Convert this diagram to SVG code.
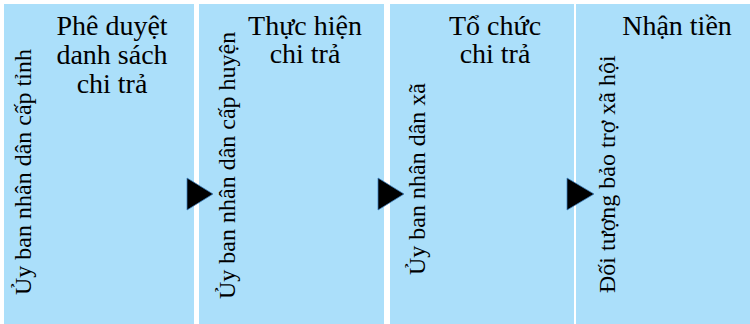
<svg xmlns="http://www.w3.org/2000/svg" width="750" height="324" viewBox="0 0 750 324">
  <style>
    .panel { fill: #ABDFFA; }
    .title { font-size: 28px; fill: #000; text-anchor: middle; }
    .actor { font-size: 24px; fill: #000; }
    .arrow { fill: #000; stroke: #3C7FBF; stroke-width: 0.75; stroke-linejoin: miter; }
  </style>
  <rect width="750" height="324" fill="#ffffff"/>

  <g font-family="Liberation Serif, DejaVu Serif, serif">
    <!-- Stage 1: provincial approval -->
    <g id="stage-approve">
      <rect class="panel" x="4" y="4" width="190" height="320"/>
      <text class="title" x="112" y="35">Phê duyệt</text>
      <text class="title" x="112" y="64">danh sách</text>
      <text class="title" x="112" y="93">chi trả</text>
      <text class="actor" transform="translate(31,295) rotate(-90)">Ủy ban nhân dân cấp tỉnh</text>
    </g>

    <!-- Stage 2: district execution -->
    <g id="stage-execute">
      <rect class="panel" x="199" y="4" width="185" height="320"/>
      <text class="title" x="305" y="35">Thực hiện</text>
      <text class="title" x="305" y="63">chi trả</text>
      <text class="actor" transform="translate(235,299) rotate(-90)">Ủy ban nhân dân cấp huyện</text>
    </g>

    <!-- Stage 3: commune organisation -->
    <g id="stage-organise">
      <rect class="panel" x="390" y="4" width="184" height="320"/>
      <text class="title" x="495" y="35">Tổ chức</text>
      <text class="title" x="495" y="63">chi trả</text>
      <text class="actor" transform="translate(425,275) rotate(-90)">Ủy ban nhân dân xã</text>
    </g>

    <!-- Stage 4: beneficiaries -->
    <g id="stage-receive">
      <rect class="panel" x="576" y="4" width="174" height="320"/>
      <text class="title" x="677" y="35">Nhận tiền</text>
      <text class="actor" transform="translate(615,293) rotate(-90)">Đối tượng bảo trợ xã hội</text>
    </g>
  </g>

  <!-- Flow arrows between stages -->
  <g id="connectors">
    <polygon class="arrow" points="187,178 213,194 187,210"/>
    <polygon class="arrow" points="378,178 404,194 378,210"/>
    <polygon class="arrow" points="567,178 594,194 567,210"/>
  </g>
</svg>
